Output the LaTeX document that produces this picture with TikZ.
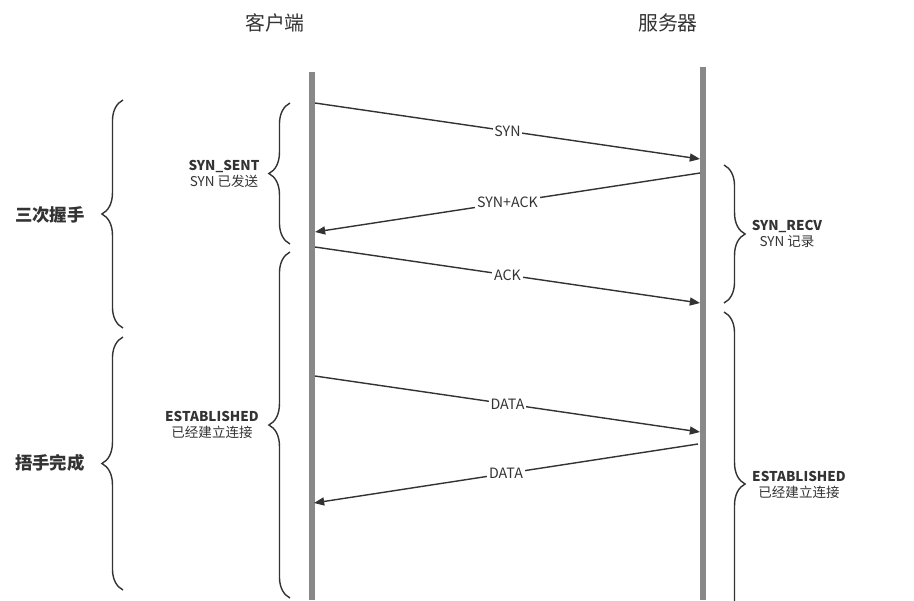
\documentclass[tikz,border=0pt]{standalone}
\usepackage{fontspec}
\setmainfont{Noto Sans CJK SC}
\usetikzlibrary{arrows.meta,decorations.pathreplacing}
\definecolor{ink}{HTML}{333333}
\definecolor{bar}{HTML}{888888}
\tikzset{
    lifeline/.style={draw=bar, line width=3.4pt},
    msg/.style={draw=ink, line width=0.8pt, -{Triangle[length=5.8pt,width=4.6pt]}},
    msglabel/.style={fill=white, inner sep=1pt, text=ink, font=\fontsize{8.1}{9}\selectfont},
    state/.style={align=center, text=ink, font=\fontsize{7.7}{9}\selectfont},
    phase/.style={text=ink, font=\fontsize{9.9}{12}\selectfont\bfseries},
    title/.style={text=ink, font=\fontsize{11.3}{13}\selectfont},
    curly/.style={draw=ink, line width=0.8pt, decorate, decoration={brace, amplitude=12pt}}
}
\begin{document}
\begin{tikzpicture}[x=0.02cm, y=-0.02cm]
        \useasboundingbox (0,0) rectangle (914,600);

        \node[title] (client) at (275,23) {客户端};
        \node[title] (server) at (668,23) {服务器};
        \draw[lifeline] (312,72) -- (312,600);
        \draw[lifeline] (703,67) -- (703,600);

        \coordinate (c1) at (315,103); \coordinate (s1) at (700,159);
        \coordinate (s2) at (700,173); \coordinate (c2) at (315,232);
        \coordinate (c3) at (315,247); \coordinate (s3) at (700,303);
        \coordinate (c4) at (315,376); \coordinate (s4) at (700,432);
        \coordinate (s5) at (698,444); \coordinate (c5) at (314,503);

        \draw[msg] (c1) -- node[msglabel] {SYN} (s1);
        \draw[msg] (s2) -- node[msglabel] {SYN+ACK} (c2);
        \draw[msg] (c3) -- node[msglabel] {ACK} (s3);
        \draw[msg] (c4) -- node[msglabel] {DATA} (s4);
        \draw[msg] (s5) -- node[msglabel] {DATA} (c5);

        \draw[curly] (290,244) -- (290,103);
        \draw[curly] (290,598) -- (290,252);
        \draw[curly] (724,165) -- (724,303);
        \begin{scope}
            \clip (0,0) rectangle (914,600);
            \draw[curly] (724,312) -- (724,656);
        \end{scope}
        \draw[curly] (123,328) -- (123,100);
        \draw[curly] (123,590) -- (123,337);

        \node[state] (sent) at (224,174) {\textbf{SYN\_SENT}\\SYN 已发送};
        \node[state] (estc) at (212,425) {\textbf{ESTABLISHED}\\已经建立连接};
        \node[state] (recv) at (787,234) {\textbf{SYN\_RECV}\\SYN 记录};
        \node[state] (ests) at (799,485) {\textbf{ESTABLISHED}\\已经建立连接};
        \node[phase] (shake) at (50,215) {三次握手};
        \node[phase] (done) at (50,463) {捂手完成};
    \end{tikzpicture}
\end{document}
